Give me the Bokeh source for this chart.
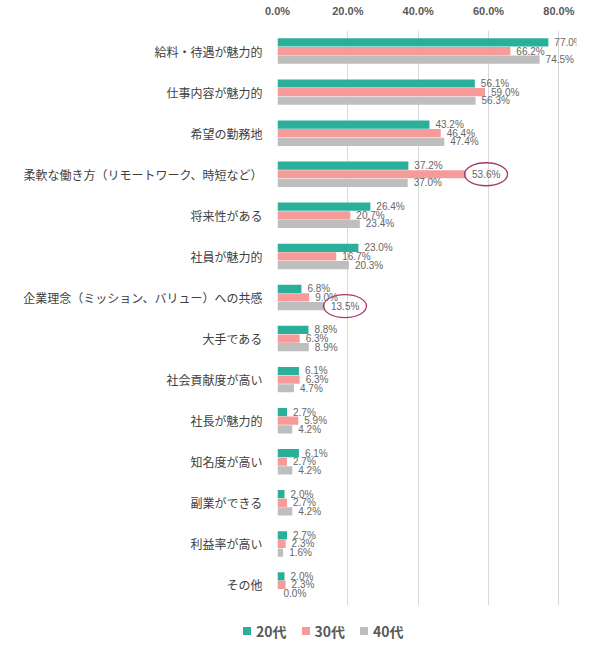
from bokeh.plotting import figure
from bokeh.layouts import column
from bokeh.models import (ColumnDataSource, FactorRange, Range1d, FixedTicker,
                          PrintfTickFormatter, Div)
from bokeh.transform import dodge
from bokeh.core.properties import value
from bokeh.embed import file_html
from bokeh.resources import INLINE

categories = ["給料・待遇が魅力的", "仕事内容が魅力的", "希望の勤務地",
              "柔軟な働き方（リモートワーク、時短など）", "将来性がある", "社員が魅力的",
              "企業理念（ミッション、バリュー）への共感", "大手である", "社会貢献度が高い",
              "社長が魅力的", "知名度が高い", "副業ができる", "利益率が高い", "その他"]
series_names = ["20代", "30代", "40代"]
s20 = [77.0, 56.1, 43.2, 37.2, 26.4, 23.0, 6.8, 8.8, 6.1, 2.7, 6.1, 2.0, 2.7, 2.0]
s30 = [66.2, 59.0, 46.4, 53.6, 20.7, 16.7, 9.0, 6.3, 6.3, 5.9, 2.7, 2.7, 2.3, 2.3]
s40 = [74.5, 56.3, 47.4, 37.0, 23.4, 20.3, 13.5, 8.9, 4.7, 4.2, 4.2, 4.2, 1.6, 0.0]
x_ticks = [0, 20, 40, 60, 80]
highlights = [("柔軟な働き方（リモートワーク、時短など）", "30代"),
              ("企業理念（ミッション、バリュー）への共感", "40代")]

colors = ["#2AB09A", "#F79A9A", "#BEBEBE"]
offsets = [0.21, 0.0, -0.21]
X_MAX = 85
FRAME_W = 299

p = figure(width=592, height=605, output_backend="svg", toolbar_location=None,
           y_range=FactorRange(factors=list(reversed(categories))),
           x_range=Range1d(0, X_MAX), x_axis_location="above",
           frame_width=FRAME_W, frame_height=575,
           min_border_left=277, min_border_right=16, min_border_top=30,
           min_border_bottom=0)
p.outline_line_color = None
p.background_fill_color = "white"
p.border_fill_color = "white"

all_vals = [s20, s30, s40]
for name, vals, col, off in zip(series_names, all_vals, colors, offsets):
    src = ColumnDataSource(dict(cat=categories, v=vals,
                                lbl=[f"{x:.1f}%" for x in vals]))
    p.hbar(y=dodge("cat", off, range=p.y_range), right="v", left=0,
           height=0.2, source=src, fill_color=col, line_color=None)
    p.text(x="v", y=dodge("cat", off, range=p.y_range), text="lbl", source=src,
           x_offset=6, text_baseline="middle", text_align="left",
           text_font=value("Liberation Sans"), text_font_size="10px",
           text_color="#666666")

# highlight ellipses around selected labels
px_per_unit = FRAME_W / X_MAX
for cat, ser in highlights:
    i = categories.index(cat)
    k = series_names.index(ser)
    s = ColumnDataSource(dict(x=[all_vals[k][i] + 20 / px_per_unit], c=[cat]))
    p.ellipse(x="x", y=dodge("c", offsets[k], range=p.y_range), source=s,
              width=43, height=23, width_units="screen", height_units="screen",
              fill_color=None, line_color="#A8396A", line_width=1.3)

# axes
xa = p.xaxis[0]
xa.ticker = FixedTicker(ticks=x_ticks)
xa.formatter = PrintfTickFormatter(format="%.1f%%")
xa.axis_line_color = None
xa.major_tick_line_color = None
xa.minor_tick_line_color = None
xa.major_label_text_font = "Liberation Sans"
xa.major_label_text_font_style = "bold"
xa.major_label_text_font_size = "11px"
xa.major_label_text_color = "#595959"
xa.major_label_standoff = 8

ya = p.yaxis[0]
ya.axis_line_color = None
ya.major_tick_line_color = None
ya.minor_tick_line_color = None
ya.major_label_text_font = "Noto Sans CJK JP"
ya.major_label_text_font_size = "12px"
ya.major_label_text_color = "#404040"
ya.major_label_standoff = 9

p.xgrid.grid_line_color = "#D9D9D9"
p.ygrid.grid_line_color = None

# legend strip below the chart (HTML text)
items_html = "".join(
    f'<span style="display:inline-block;width:8px;height:8px;background:{c};'
    f'margin-right:5px;"></span>'
    f'<span style="margin-right:15px;">{n}</span>'
    for n, c in zip(series_names, colors))
legend_div = Div(
    text=(f'<div style="display:flex;align-items:center;box-sizing:border-box;'
          f'height:40px;padding-top:12px;padding-left:243px;'
          f"font-family:'Noto Sans CJK JP';font-size:14px;font-weight:bold;"
          f'color:#595959;line-height:1;">{items_html}</div>'),
    width=592, height=40, margin=0)

layout = column(p, legend_div, spacing=0)
open("out.html", "w").write(file_html(layout, INLINE))
